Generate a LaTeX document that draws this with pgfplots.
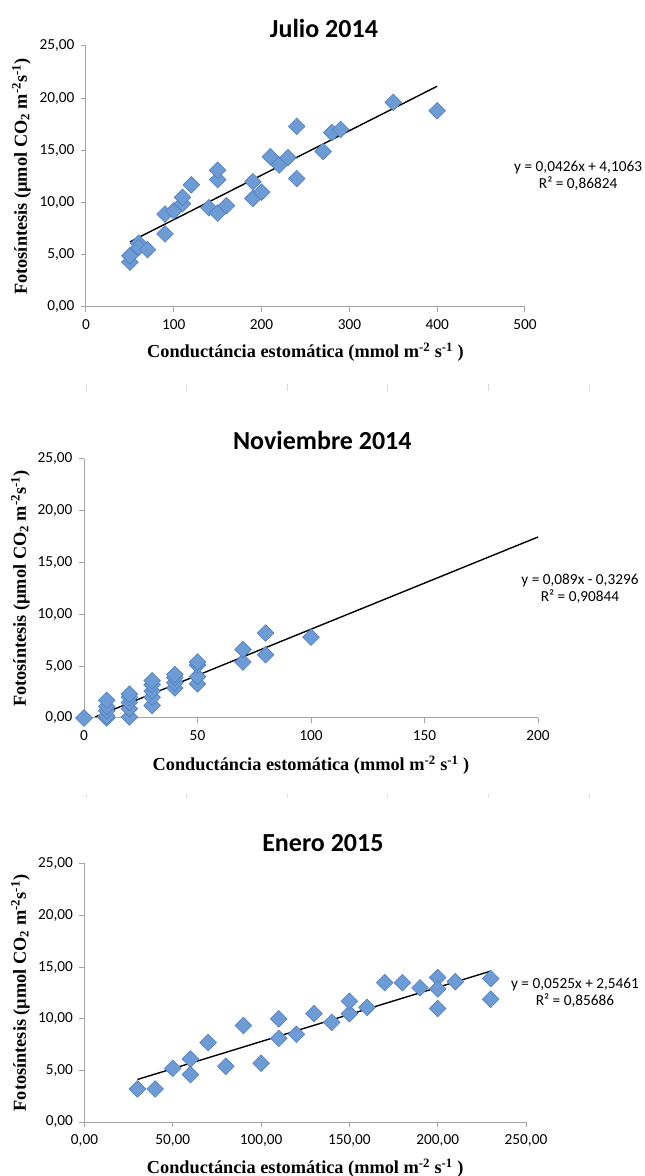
\documentclass[border=0pt]{standalone}
\usepackage{fontspec}
\setmainfont{Liberation Serif}
\newfontfamily\carlito{Carlito}
\usepackage{pgfplots}
\pgfplotsset{compat=1.18}

\definecolor{mk}{RGB}{108,155,213}
\definecolor{mkd}{RGB}{84,128,188}
\definecolor{axc}{RGB}{165,165,165}

\newcommand{\lblfont}{\bfseries\fontsize{18.3}{18.3}\selectfont}

\pgfplotsset{
 panel/.style={
  scale only axis, clip=false,
  axis x line*=bottom, axis y line*=left,
  axis line style={axc, line width=1pt, -},
  tick align=outside, major tick length=5pt,
  tick style={axc, line width=1pt},
  ymin=0, ymax=25, ytick={0,5,10,15,20,25},
  yticklabels={{0,00},{5,00},{10,00},{15,00},{20,00},{25,00}},
  ticklabel style={font=\carlito\fontsize{15.3}{15.3}\selectfont, text=black},
  xticklabel style={yshift=-4pt},
  yticklabel style={xshift=-3pt},
  xlabel={Conductáncia estomática (mmol m\textsuperscript{-2} s\textsuperscript{-1} )},
  ylabel={Fotosíntesis (µmol CO\textsubscript{2} m\textsuperscript{-2}s\textsuperscript{-1})},
 },
 pts/.style={only marks, mark=square*, mark size=5.9pt,
   mark options={rotate=45, fill=mk, draw=mkd, line width=0.6pt}},
 trend/.style={black, line width=1.4pt, no marks},
}
\tikzset{
 ttl/.style={font=\carlito\bfseries\fontsize{26}{26}\selectfont},
 eqn/.style={font=\carlito\fontsize{15.3}{17}\selectfont, align=center},
}

\begin{document}
\begin{tikzpicture}[x=1pt,y=1pt]
\useasboundingbox (0,0) rectangle (645,1176);

% faint separator ticks
\foreach \xx in {86,186,287,387,488,589} {
  \draw[black!15, line width=0.8pt] (\xx,785) -- (\xx,792);
  \draw[black!15, line width=0.8pt] (\xx,379) -- (\xx,381.5);
}

% ---------------- Julio 2014 ----------------
\begin{axis}[panel, at={(86pt,869pt)}, anchor=south west,
  width=439pt, height=261pt,
  xmin=0, xmax=500, xtick={0,100,200,300,400,500},
  xticklabels={0,100,200,300,400,500},
  every axis x label/.style={at={(axis description cs:0.5,-0.172)}, anchor=center, font=\lblfont},
  every axis y label/.style={at={(axis description cs:-0.147,0.5)}, rotate=90, anchor=center, font=\lblfont},
]
\addplot[pts] coordinates {
(50,4.3)(50,4.9)(60,6.1)(60,5.7)(70,5.5)(90,8.9)(90,7.0)(100,9.2)(110,9.9)(110,10.5)
(120,11.7)(140,9.5)(150,9.0)(150,12.2)(150,13.1)(160,9.7)(190,10.4)(190,12.0)(200,11.0)
(210,14.4)(220,13.6)(230,14.3)(240,17.3)(240,12.3)(270,14.9)(280,16.7)(290,17.0)
(350,19.6)(400,18.8)};
\addplot[trend] coordinates {(50,6.2363)(400,21.1463)};
\node[ttl] at (rel axis cs:0.542,1.069) {Julio 2014};
\node[eqn] at (rel axis cs:1.121,0.504) {y = 0,0426x + 4,1063\\R² = 0,86824};
\end{axis}

% ---------------- Noviembre 2014 ----------------
\begin{axis}[panel, at={(84pt,458pt)}, anchor=south west,
  width=454pt, height=259pt,
  xmin=0, xmax=200, xtick={0,50,100,150,200},
  xticklabels={0,50,100,150,200},
  every axis x label/.style={at={(axis description cs:0.5,-0.181)}, anchor=center, font=\lblfont},
  every axis y label/.style={at={(axis description cs:-0.140,0.5)}, rotate=90, anchor=center, font=\lblfont},
]
\addplot[pts] coordinates {
(0,0)(10,0)(10,0.2)(10,0.7)(10,1.1)(10,1.7)(20,0.1)(20,0.9)(20,1.5)(20,2.0)(20,2.3)
(30,1.2)(30,2.0)(30,2.6)(30,3.2)(30,3.6)(40,2.9)(40,3.4)(40,3.9)(40,4.2)
(50,3.3)(50,4.0)(50,5.1)(50,5.4)(70,5.4)(70,6.6)(80,8.2)(80,6.1)(100,7.8)};
\addplot[trend] coordinates {(5,0.1154)(200,17.4704)};
\node[ttl] at (rel axis cs:0.525,1.073) {Noviembre 2014};
\node[eqn] at (rel axis cs:1.0925,0.5) {y = 0,089x - 0,3296\\R² = 0,90844};
\end{axis}

% ---------------- Enero 2015 ----------------
\begin{axis}[panel, at={(84.5pt,54pt)}, anchor=south west,
  width=441.5pt, height=258pt,
  xmin=0, xmax=250, xtick={0,50,100,150,200,250},
  xticklabels={{0,00},{50,00},{100,00},{150,00},{200,00},{250,00}},
  every axis x label/.style={at={(axis description cs:0.5,-0.178)}, anchor=center, font=\lblfont},
  every axis y label/.style={at={(axis description cs:-0.145,0.5)}, rotate=90, anchor=center, font=\lblfont},
]
\addplot[pts] coordinates {
(30,3.2)(40,3.2)(50,5.2)(60,6.1)(60,4.6)(70,7.7)(80,5.4)(90,9.35)(100,5.7)(110,8.1)
(110,10.0)(120,8.5)(130,10.5)(140,9.65)(150,10.5)(150,11.7)(160,11.1)(170,13.5)
(180,13.5)(190,13.0)(200,14.0)(200,12.9)(200,11.0)(210,13.6)(230,13.9)(230,11.9)};
\addplot[trend] coordinates {(30,4.1211)(230,14.6211)};
\node[ttl] at (rel axis cs:0.540,1.081) {Enero 2015};
\node[eqn] at (rel axis cs:1.111,0.5) {y = 0,0525x + 2,5461\\R² = 0,85686};
\end{axis}
\end{tikzpicture}
\end{document}
